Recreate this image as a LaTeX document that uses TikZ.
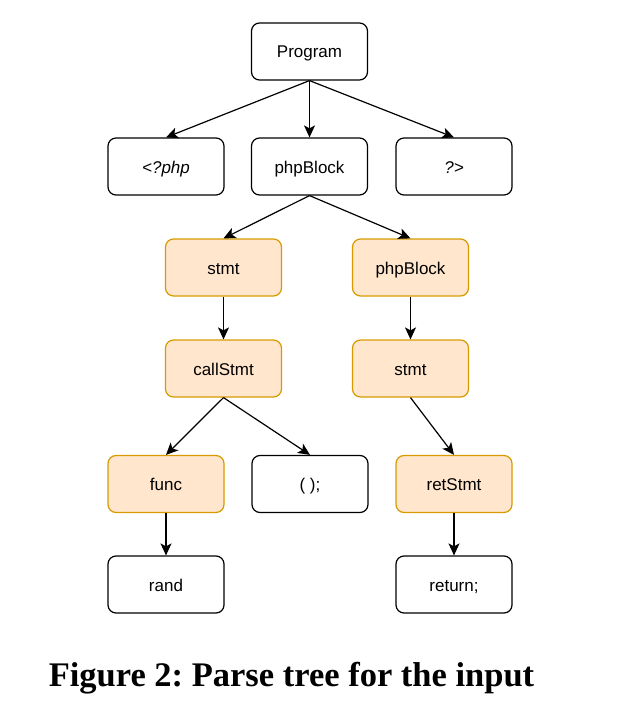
\documentclass[tikz,border=0pt]{standalone}
\usepackage{fontspec}
\setmainfont{Liberation Sans}
\newfontfamily\captionfont{Liberation Serif}
\usetikzlibrary{arrows.meta}
\definecolor{leaffill}{HTML}{FFE6CC}
\definecolor{leafdraw}{HTML}{D79B00}
\frenchspacing
\begin{document}
\begin{tikzpicture}[x=1pt,y=-1pt,
    box/.style={draw=black, line width=1.2pt, rounded corners=8pt, minimum width=116pt, minimum height=57pt, inner sep=0pt, text height=16pt, text depth=3pt, font=\fontsize{17}{19}\selectfont},
    rule/.style={box, draw=leafdraw, fill=leaffill},
    edge/.style={line width=1.2pt, -{Stealth[length=12pt,width=11pt,inset=3pt]}}]
    \useasboundingbox (0,0) rectangle (624,709);

    % ebene 0 und 1
    \node[box] (prog) at (309.5,51.5) {Program};
    \node[box] (open) at (166,166.5) {\itshape <?php};
    \node[box] (blk) at (309.5,166.5) {phpBlock};
    \node[box] (close) at (454,166.5) {\itshape ?>};

    % linker zweig
    \node[rule] (stmtA) at (223.5,267.5) {stmt};
    \node[rule] (call) at (223.5,368.5) {callStmt};
    \node[rule] (func) at (166,484) {func};
    \node[box] (paren) at (310,484) {( );};
    \node[box] (rand) at (166,584.5) {rand};

    % rechter zweig
    \node[rule] (blkB) at (410.5,267.5) {phpBlock};
    \node[rule] (stmtB) at (410.5,368.5) {stmt};
    \node[rule] (ret) at (454,484) {retStmt};
    \node[box] (retkw) at (454,584.5) {return;};

    % kanten
    \draw[edge] (prog.south) -- (open.north);
    \draw[edge] (prog.south) -- (blk.north);
    \draw[edge] (prog.south) -- (close.north);
    \draw[edge] (blk.south) -- (stmtA.north);
    \draw[edge] (blk.south) -- (blkB.north);
    \draw[edge] (stmtA.south) -- (call.north);
    \draw[edge] (call.south) -- (func.north);
    \draw[edge] (call.south) -- (paren.north);
    \draw[edge] (func.south) -- (rand.north);
    \draw[edge] (blkB.south) -- (stmtB.north);
    \draw[edge] (stmtB.south) -- (ret.north);
    \draw[edge] (ret.south) -- (retkw.north);

    % bildunterschrift
    \node[anchor=base, inner sep=0pt, font=\captionfont\bfseries\fontsize{34.5}{40}\selectfont] (cap) at (291.5,686) {Figure 2: Parse tree for the input};
\end{tikzpicture}
\end{document}
